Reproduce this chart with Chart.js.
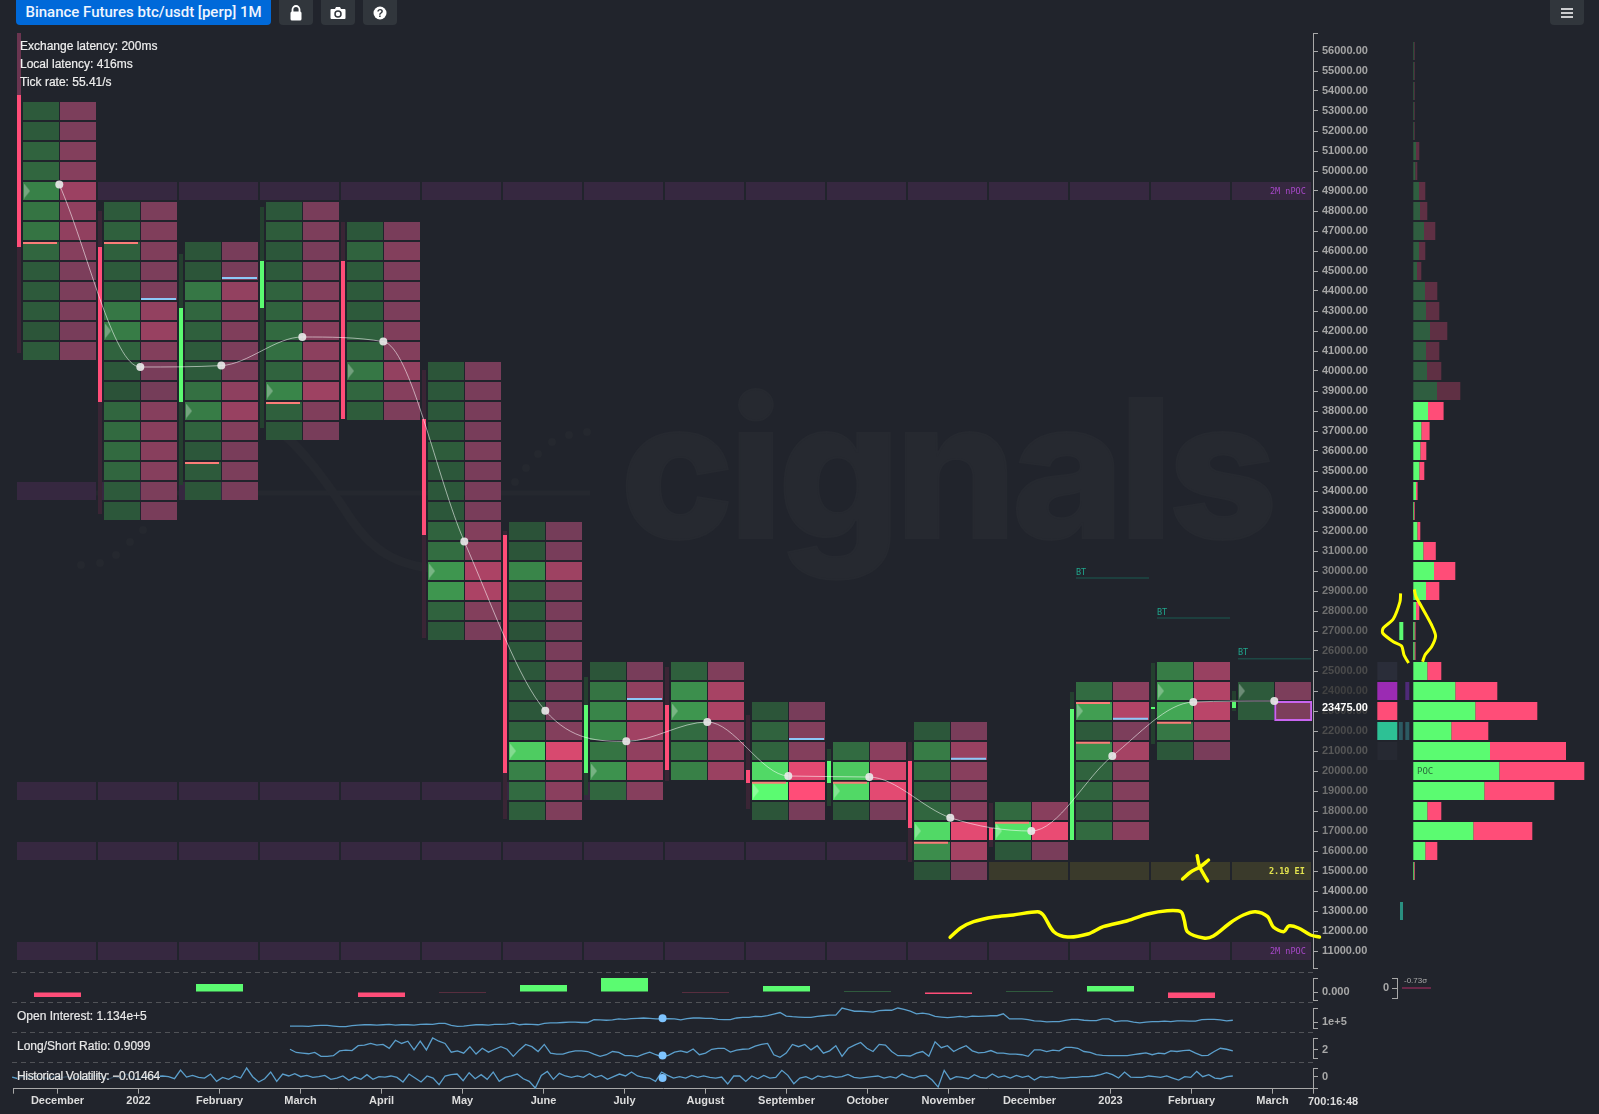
<!DOCTYPE html>
<html><head><meta charset="utf-8">
<style>
html,body{margin:0;padding:0;width:1599px;height:1114px;overflow:hidden;background:#21242c;font-family:"Liberation Sans",Arial,sans-serif}
canvas{position:absolute;display:block}
.t{position:absolute;white-space:nowrap;line-height:1;transform:translateY(-50%)}
.ind{font-size:12px;color:#e8e8e8;left:17px;-webkit-text-stroke:.2px #e8e8e8}
.mono{font-family:"DejaVu Sans Mono",monospace;font-size:8.5px}
.btn{position:absolute;top:0;height:25px;width:34px;background:#31363c;border-radius:0 0 4px 4px;display:flex;align-items:center;justify-content:center}
.dash{position:absolute;left:12px;width:1301px;height:1px;background:repeating-linear-gradient(90deg,#505257 0 5px,transparent 5px 9px)}
#mark{position:absolute;left:620px;top:372px;font-family:Inter,sans-serif;font-weight:800;font-size:192px;line-height:1;color:#262930;letter-spacing:-5.5px;white-space:nowrap;-webkit-text-stroke:2px #262930}
</style></head><body>
<svg style="position:absolute;left:0;top:0" width="1599" height="1114" fill="none" stroke="#25282f">
 <path d="M78 493H590" stroke-width="5"/>
 <path d="M272 425C300 445 325 480 345 510C370 550 395 568 450 570" stroke-width="9"/>
 <g fill="#25282f" stroke="none"><circle cx="81" cy="565" r="4"/><circle cx="100" cy="563" r="4"/><circle cx="116" cy="555" r="4"/><circle cx="130" cy="542" r="4"/><circle cx="143" cy="530" r="4"/>
 <circle cx="587" cy="432" r="4"/><circle cx="569" cy="435" r="4"/><circle cx="552" cy="442" r="4"/><circle cx="538" cy="454" r="4"/><circle cx="526" cy="468" r="4"/><circle cx="515" cy="482" r="4"/></g>
</svg>
<div id="mark">cignals</div>

<canvas id="main" style="left:0;top:0"></canvas>
<canvas id="profile" style="left:1376px;top:0"></canvas>
<canvas id="delta" style="left:0;top:972px"></canvas>
<canvas id="oi" style="left:0;top:1002px"></canvas>
<canvas id="ls" style="left:0;top:1032px"></canvas>
<canvas id="hv" style="left:0;top:1062px"></canvas>
<canvas id="sigma" style="left:1360px;top:972px"></canvas>

<div class="dash" style="top:972px"></div><div class="dash" style="top:1002px"></div>
<div class="dash" style="top:1032px"></div><div class="dash" style="top:1062px"></div>

<div style="position:absolute;left:16px;top:0;width:255px;height:25px;background:#0069d9;border-radius:0 0 4px 4px;color:#eef5ff;font:500 15px Roboto,sans-serif;line-height:24px;text-align:center">Binance Futures btc/usdt [perp] 1M</div>
<div class="btn" style="left:279px"><svg width="14" height="16" viewBox="0 0 14 16"><path d="M3.5 7V4.5a3.5 3.5 0 0 1 7 0V7" fill="none" stroke="#fff" stroke-width="1.8"/><rect x="1.5" y="6.5" width="11" height="9" rx="1.5" fill="#fff"/></svg></div>
<div class="btn" style="left:321px"><svg width="16" height="14" viewBox="0 0 16 14"><path d="M1.5 3H5L6 1H10L11 3H14.5A1 1 0 0 1 15.500 4V12A1 1 0 0 1 14.500 13H1.500A1 1 0 0 1 .5 12V4A1 1 0 0 1 1.500 3Z" fill="#fff"/><circle cx="8" cy="8" r="3" fill="none" stroke="#31363c" stroke-width="1.500"/></svg></div>
<div class="btn" style="left:363px"><svg width="14" height="14" viewBox="0 0 14 14"><circle cx="7" cy="7" r="6.500" fill="#fff"/><text x="7" y="10.800" text-anchor="middle" font-size="11" font-weight="700" font-family="Liberation Sans" fill="#31363c">?</text></svg></div>
<div class="btn" style="left:1550px"><svg width="14" height="12" viewBox="0 0 14 12"><path d="M1 2H13M1 6H13M1 10H13" stroke="#fff" stroke-width="1.500"/></svg></div>

<div class="t" style="left:20px;top:46px;font-size:12px;color:#eee;-webkit-text-stroke:.2px #eee">Exchange latency: 200ms</div>
<div class="t" style="left:20px;top:64px;font-size:12px;color:#eee;-webkit-text-stroke:.2px #eee">Local latency: 416ms</div>
<div class="t" style="left:20px;top:82px;font-size:12px;color:#eee;-webkit-text-stroke:.2px #eee">Tick rate: 55.41/s</div>

<div class="t mono" style="left:1270px;top:191px;color:#a748c8">2M nPOC</div>
<div class="t mono" style="left:1270px;top:951px;color:#a748c8">2M nPOC</div>
<div class="t mono" style="left:1269px;top:871px;color:#e3e34e;font-weight:700">2.19 EI</div>
<div class="t mono" style="left:1076px;top:572px;color:#20a58c">BT</div>
<div class="t mono" style="left:1157px;top:612px;color:#20a58c">BT</div>
<div class="t mono" style="left:1238px;top:652px;color:#20a58c">BT</div>
<div class="t mono" style="left:1417px;top:771px;color:#2a6e3c;font-size:9px">POC</div>
<div class="t" style="left:1322px;top:707px;font-size:11px;font-weight:700;color:#fff">23475.00</div>
<div class="t" style="left:1404px;top:981px;font-size:8px;color:#aaa">-0.73σ</div>
<div class="t" style="left:1308px;top:1101px;font-size:11px;font-weight:700;color:#ddd">700:16:48</div>

<div class="t ind" style="top:1016px">Open Interest: 1.134e+5</div>
<div class="t ind" style="top:1046px">Long/Short Ratio: 0.9099</div>
<div class="t ind" style="top:1076px;letter-spacing:-.35px;background:rgba(33,36,44,.7)">Historical Volatility: −0.01464</div>

<script src="https://cdn.jsdelivr.net/npm/chart.js@4/dist/chart.umd.min.js"></script>
<script>
// ---------- values ----------
const months=['December','2022','February','March','April','May','June','July','August','September','October','November','December','2023','February','March'];
const priceTicks=[56000,55000,54000,53000,52000,51000,50000,49000,48000,47000,46000,45000,44000,43000,42000,41000,40000,39000,38000,37000,36000,35000,34000,33000,32000,31000,30000,29000,28000,27000,26000,25000,24000,23000,22000,21000,20000,19000,18000,17000,16000,15000,14000,13000,12000,11000];
const cellTop=[53000,48000,46000,48000,47000,40000,32000,25000,25000,23000,21000,22000,18000,24000,25000,24000];
const cellShade=[
[.05,.05,.1,.12,.28,.2,.2,.12,.05,.05,.05,.02,.05],
[.05,.08,.08,.05,.05,.22,.25,.1,.03,0,.12,.14,.14,.12,.05,.03],
[.02,.02,.22,.12,.08,.05,.05,.18,.25,.1,.03,.05,.02],
[.03,.06,.03,.05,.1,.1,.14,.17,.1,.3,.08,.02],
[.03,.1,.05,.05,.05,.08,.1,.22,.12,.06],
[.02,.03,.03,.02,.06,.03,.03,.03,.1,.16,.4,.4,.1,.03],
[0,.02,.3,.06,.03,0,.03,.03,.03,.03,.1,.72,.28,.15,.07],
[.02,.2,.3,.32,.2,.38,.12],
[.08,.36,.4,.15,.2,.27],
[.02,.1,.1,.8,1,.02],
[.15,.7,.8,.02],
[.03,.25,.14,.05,.12,.8,.35,0],
[.14,.85,.03],
[.15,.45,.05,.35,.1,.1,.07,.14],
[.25,.45,.5,.22,.03],
[.05,.05]];
const pocPrice=[49000,42000,38000,39000,40000,30000,21000,20000,23000,19000,19000,17000,17000,23000,24000,24000];
const wickHigh=[56900,48000,45850,48200,47450,40050,32000,24700,25200,22800,21100,21450,18400,23950,25400,24000];
const bodyHigh=[53800,46200,43150,45500,45500,37600,31800,23300,23300,20050,20500,20500,17150,23100,23200,23450];
const bodyLow =[46200,38450,38450,43150,37600,31800,19900,19900,20050,19400,19400,17150,16550,16550,23100,23150];
const wickLow =[40900,32850,34300,37150,37600,26650,17600,18800,19500,18100,18250,15450,16200,16550,21350,23000];
const candleUp=[0,0,1,1,0,0,0,1,0,0,1,0,0,1,1,1];
const vwap=[49320,40200,40270,41700,41470,31475,23015,21485,22450,19750,19700,17665,17000,20750,23450,23500];
const salmonCol=[0,1,2,3,9,10,11,12,13,13,14];
const salmonPrice=[46400,46400,35400,38400,19415,19415,16415,17415,23400,21415,22415];
const blueCol=[1,2,7,9,11,13];
const bluePrice=[43600,44650,23600,21600,20615,22615];
const npocBands=[[49000,1,15],[34000,0,2],[19000,0,7],[16000,0,10],[11000,0,15]];
const eiBand=[15000,12,15];
const btCol=[13,14,15];
const btPrice=[29650,27650,25615];
const scribbleCol=[11.02,11.15,11.31,11.56,11.80,12.10,12.17,12.30,12.47,12.72,12.91,13.21,13.46,13.70,13.87,13.91,13.95,14.15,14.27,14.48,14.64,14.79,14.94,15.01,15.14,15.20,15.32,15.47,15.58];
const scribblePrice=[11685,12150,12465,12700,12800,12965,12800,11965,11700,11850,12215,12515,12850,13015,12965,12550,11965,11650,11750,12415,12800,12965,12715,12200,11965,12250,12150,11800,11700];
const crossACol=[13.89,13.99,14.11,14.21], crossAPrice=[14600,14950,15215,15550];
const crossBCol=[14.07,14.10,14.20], crossBPrice=[15765,15215,14500];

const profilePrice=[56000,55000,54000,53000,52000,51000,50000,49000,48000,47000,46000,45000,44000,43000,42000,41000,40000,39000,38000,37000,36000,35000,34000,33000,32000,31000,30000,29000,28000,27000,26000,25000,24000,23000,22000,21000,20000,19000,18000,17000,16000,15000];
const buyVol=[.75,.75,.75,.75,.75,2.7,2,5.7,6.7,10.7,5.7,3.7,11.7,12.7,16.7,12.7,13.7,23.7,14.7,8,7,6,2.7,.7,4,10,20.7,12.7,2.7,1.2,1.2,14,42,62,38,76.7,86,71,14,60,12,.8];
const sellVol=[.75,.75,.75,.75,.75,3.3,2,6.3,7.3,11.3,6.3,4.3,12.3,13.3,17.3,13.3,14.3,23.3,15.6,8.3,6,5,1.6,.7,3,12.5,21.3,13.3,3.3,1,1,14,42,62,37,76,85,70,14,59,12,.7];
const sideBoxes=[[25000,-36,-16,'#2a2d39'],[24000,-36,-16,'#9b2bb3'],[23000,-36,-16,'#ff4d78'],[22000,-36,-16,'#2dc195'],[21000,-36,-16,'#262932'],
 [27000,-14,-10,'#5bfb71'],[24000,-8,-4,'#4e2a78'],[22000,-14.500,-10.500,'#2c5a62'],[22000,-8,-4,'#2c5a62'],[13000,-13.300,-10.300,'#2a8f80']];
const loopLeftX=[-12.7,-13.3,-20,-30,-30.7,-20,-11.7,-9.3,-4.7], loopLeftP=[28883,28465,27600,27150,26900,26465,26250,25800,25400];
const loopRightX=[1,2.7,8.3,18.3,22.3,18.3,11.7,9.3], loopRightP=[29085,28715,28215,27300,26750,26215,25800,25465];

const deltaCol=[0,2,4,5,6,7,8,9,10,11,12,13,14];
const deltaVal=[-5,8,-5,-.7,7,14,-.7,6,.7,-2,.7,6,-6];
const openInterest=[86.6,86.6,86.6,85.5,87.8,88.9,88.9,86.6,84.4,84.4,87.8,90,91.1,91.1,90,91.1,92.2,90,91.1,91.1,90,92.2,93.3,92.2,95.6,95.6,88.9,85.5,86.6,88.9,91.1,91.1,90,92.2,92.2,93.3,96.7,91.1,93.3,92.2,91.1,95.6,97.8,97.8,98.9,100,100,98.9,98.9,109,107.9,106.7,107.9,111.2,
110.1,112.3,113.4,114.6,113.4,111.2,111.2,112.3,111.2,107.9,112.3,114.6,114.6,113.4,113.4,110.1,109,109,114.6,116.8,116.8,120.2,119,122.4,128,133.5,121.3,119,117.9,116.8,116.8,120.2,122.4,124.6,124.6,149.2,143.6,138,138,136.9,134.7,140.3,141.4,141.4,149.2,144.7,138,129.1,131.3,128,120.2,117.9,115.7,117.9,120.2,117.9,121.3,120.2,121.3,122.4,122.4,129.1,111.2,111.2,111.2,109,104.5,103.4,101.2,102.3,102.3,106.7,110.1,110.1,106.7,105.6,105.6,111.2,111.2,102.3,104.5,104.5,100,97.8,100,102.3,102.3,103.4,102.3,104.5,104.5,103.4,103.4,109,110.1,110.1,107.9,104.5,106.7];
const longShort=[2.06,1.46,1.34,1.22,1.46,.74,.74,.86,1.76,1.88,1.82,2.72,2.84,3.14,2.84,2.96,2.24,3.74,3.14,3.56,1.94,3.56,1.94,4.16,3.56,3.14,1.52,1.76,1.34,2.54,1.16,2.24,1.52,2.06,2.54,2.06,.74,1.94,2.96,2.54,1.64,2.96,1.34,1.16,1.16,1.52,1.76,1.76,1.64,1.16,.74,1.04,1.64,1.46,
.86,.86,.68,1.16,1.52,1.04,.62,.92,1.52,1.76,1.46,2.12,1.04,1.34,2.06,2.24,2.24,1.52,1.88,2.06,2.12,2.66,2.96,3.14,1.04,.56,1.34,2.96,2.54,2.96,1.94,2.72,1.34,1.76,2.72,.74,2.24,2.84,3.32,2.24,1.64,2.96,2.84,1.64,.86,.86,.8,1.34,1.64,.74,3.44,2.36,2.72,1.64,2.24,2.72,1.76,1.4,1.46,1.82,1.34,1.34,1.16,1.16,1.04,.74,1.94,1.94,1.64,1.88,1.76,2.42,2.42,2.24,1.64,1.46,1.04,.92,.86,.86,.86,.86,1.04,1.22,1.4,1.04,1.34,1.22,1.76,1.64,1.82,1.88,1.34,.86,.92,1.64,2.24,2.06,1.76];
const histVol=[-4,-23,8,-15,8,-8,-23,8,-15,0,-23,8,-30,0,15,-8,-30,0,-15,30,-4,-30,8,-4,4,8,0,-23,75,-4,15,-8,-15,30,-53,-8,-30,8,-15,98,0,-60,-23,53,-53,30,8,34,0,15,-8,0,15,-30,-15,8,-41,-4,-30,23,-30,0,-4,8,-8,-60,30,-15,-60,8,-15,-90,8,23,30,-45,45,-23,23,-30,53,-53,-8,8,30,-23,-53,-128,15,60,-30,38,8,-8,8,-8,34,-8,15,-30,0,30,
8,53,8,-8,-15,-53,53,15,-15,0,-15,15,-8,8,-8,-15,-4,-83,8,8,-53,8,-23,15,-15,-8,72,15,-79,-15,0,-30,8,-8,8,-8,0,26,-8,-15,-8,0,8,-15,0,-15,30,0,-15,8,15,-38,-117,72,-30,0,-8,-23,23,-8,-15,30,-8,8,-15,15,-8,8,-38,0,-8,0,-15,-15,-8,-8,0,0,8,23,45,23,-15,53,-4,-8,-8,8,0,-8,8,-15,-38,0,-8,60,0,23,-15,-23,0,8];
const hoverCol=7.47, hoverOI=113.4, hoverLS=.9099, hoverHV=-14.64;
const sigmaSpan=[5,34], sigmaLevel=0;
const lastPrice=23475;

// ---------- rendering ----------
Chart.defaults.animation=false;
Chart.defaults.responsive=false;
Chart.defaults.devicePixelRatio=1;
Chart.defaults.font.family='"Liberation Sans",Arial,sans-serif';
Chart.defaults.plugins.legend.display=false;
Chart.defaults.plugins.tooltip.enabled=false;
Chart.defaults.events=[];

function size(id,w,h){const c=document.getElementById(id);c.width=w;c.height=h;c.style.width=w+'px';c.style.height=h+'px';return c;}
const COL=81, XMIN=-0.5494, XMAX=15.5, PMIN=10150, PMAX=56900, AXIS='#a8a8a8';
const off=px=>px/COL;
const mix=(a,b,t)=>`rgb(${a.map((v,i)=>Math.round(v+(b[i]-v)*t)).join(',')})`;
const gLo=[43,82,56],gHi=[91,251,113],rLo=[117,61,89],rHi=[255,77,120];
const range=n=>[...Array(n).keys()];
const fitY=w=>s=>{s.width=w;s.paddingTop=0;s.paddingBottom=0;};
const fitX=h=>s=>{s.height=h;s.paddingLeft=0;s.paddingRight=0;};

function barSet(points,w,color,order,extra){
  return Object.assign({type:'bar',stack:'m',barThickness:w,data:points,backgroundColor:color,borderWidth:0,inflateAmount:0,order},extra||{});
}
const cells=[];cellShade.forEach((rows,c)=>rows.forEach((t,r)=>cells.push({c,p:cellTop[c]-r*1000,t})));
const bandPts=[];npocBands.forEach(([p,a,b])=>{for(let c=a;c<=b;c++)bandPts.push({x:c-off(1),y:[p-450,p+450]});});
const eiPts=[];for(let c=eiBand[1];c<=eiBand[2];c++)eiPts.push({x:c-off(1),y:[eiBand[0]-450,eiBand[0]+450]});
const tri=document.createElement('canvas');tri.width=6;tri.height=15;
{const g=tri.getContext('2d');g.fillStyle='rgba(255,255,255,.3)';g.beginPath();g.moveTo(0,0);g.lineTo(6,7.5);g.lineTo(0,15);g.closePath();g.fill();}
const stroke=(xs,ys,order)=>({type:'line',data:xs.map((x,i)=>({x,y:ys[i]})),borderColor:'#ffff00',borderWidth:3.5,pointRadius:0,tension:.3,clip:false,order,borderCapStyle:'round',borderJoinStyle:'round'});

const redUp=u=>u?'#24402f':'#3a2535';
new Chart(size('main',1376,1000),{type:'bar',data:{datasets:[
  stroke(scribbleCol,scribblePrice,0),stroke(crossACol,crossAPrice,0),stroke(crossBCol,crossBPrice,0),
  {type:'line',data:vwap.map((y,i)=>({x:i+off(1.8),y})),cubicInterpolationMode:'monotone',borderColor:'rgba(255,255,255,.55)',borderWidth:1,pointRadius:4,pointBorderWidth:0,pointBackgroundColor:'rgba(232,232,232,.92)',clip:false,order:1},
  {type:'line',showLine:false,data:pocPrice.map((y,i)=>({x:i+off(-30.5),y})),pointStyle:tri,pointRadius:7,order:2},
  barSet(salmonCol.map((c,i)=>({x:c+off(-17.5),y:[salmonPrice[i]-50,salmonPrice[i]+50]})),34,'#fb7d78',3),
  barSet(blueCol.map((c,i)=>({x:c+off(20),y:[bluePrice[i]-50,bluePrice[i]+50]})),35,'#8cc8f8',3),
  barSet([{x:15+off(20.7),y:[22500,23500]}],38,'rgba(0,0,0,0)',3,{borderWidth:2,borderColor:'#c865f0',borderSkipped:false}),
  barSet(cells.map(o=>({x:o.c+off(-16.5),y:[o.p-450,o.p+450]})),36,cells.map(o=>mix(gLo,gHi,o.t)),5),
  barSet(cells.map(o=>({x:o.c+off(20.5),y:[o.p-450,o.p+450]})),36,cells.map(o=>mix(rLo,rHi,o.t)),5),
  barSet(bodyHigh.map((h,i)=>({x:i+off(-38.5),y:[bodyLow[i],h]})),4,candleUp.map(u=>u?'#5bfb71':'#ff4d78'),6),
  barSet([{x:off(-38.5),y:[bodyHigh[0],wickHigh[0]]}],4,'#6a3550',6),
  barSet(wickHigh.map((h,i)=>({x:i+off(-38.5),y:[wickLow[i],h]})),4,candleUp.map(redUp),7),
  barSet(btCol.map((c,i)=>({x:c+off(2),y:[btPrice[i]-40,btPrice[i]+40]})),73,'#1d4844',8),
  barSet(bandPts,79,'#362840',9),
  barSet(eiPts,79,'#3a3a2b',9)
]},options:{layout:{padding:{left:13,top:33,bottom:32,right:0}},scales:{
  x:{type:'linear',display:false,min:XMIN,max:XMAX,offset:false,grid:{display:false}},
  y:{type:'linear',position:'right',min:PMIN,max:PMAX,stacked:false,
     afterFit:fitY(63),
     afterBuildTicks:s=>{s.ticks=[PMAX,...priceTicks,PMIN].map(value=>({value}))},
     grid:{drawOnChartArea:false,color:AXIS,tickLength:5},border:{color:AXIS},
     ticks:{autoSkip:false,padding:4,font:{size:11,weight:'bold'},
       callback:v=>priceTicks.includes(v)?v.toFixed(2):'',
       color:c=>{const d=Math.abs(c.tick.value-lastPrice);const a=Math.min(1,.2+d/12000);const g=Math.round(33+(165-33)*a);return `rgb(${g},${g},${g})`}}}
}}});

new Chart(size('profile',223,1000),{type:'bar',data:{datasets:[
  {type:'line',data:loopLeftX.map((x,i)=>({x,y:loopLeftP[i]})),borderColor:'#ffff00',borderWidth:3,pointRadius:0,tension:.25,clip:false,order:0},
  {type:'line',data:loopRightX.map((x,i)=>({x,y:loopRightP[i]})),borderColor:'#ffff00',borderWidth:3,pointRadius:0,tension:.25,clip:false,order:0},
  {type:'bar',stack:'p',barThickness:18,inflateAmount:0,order:2,data:profilePrice.map((y,i)=>({y,x:[0,buyVol[i]]})),backgroundColor:profilePrice.map(p=>p>=39000?'#2f5e40':'#5bfb71')},
  {type:'bar',stack:'p',barThickness:18,inflateAmount:0,order:2,data:profilePrice.map((y,i)=>({y,x:[buyVol[i],buyVol[i]+sellVol[i]]})),backgroundColor:profilePrice.map(p=>p>=39000?'#5f3044':'#ff4d78')},
  {type:'bar',stack:'p',barThickness:18,inflateAmount:0,order:2,data:sideBoxes.map(b=>({y:b[0],x:[b[1],b[2]]})),backgroundColor:sideBoxes.map(b=>b[3])}
]},options:{indexAxis:'y',layout:{padding:{left:0,top:33,bottom:32,right:0}},scales:{
  x:{type:'linear',display:false,min:-37.3,max:185.7,stacked:false},
  y:{type:'linear',display:false,min:PMIN,max:PMAX,offset:false,grid:{display:false}}
}}});

function panel(id,h,pad,ymin,ymax,tick,label,datasets,bottomAxis){
  return new Chart(size(id,1376,h),{type:'bar',data:{datasets},options:{layout:{padding:{left:13,top:pad[0],bottom:pad[1],right:0}},scales:{
    x:bottomAxis?{type:'linear',display:true,min:XMIN,max:XMAX,offset:false,
       afterFit:fitX(25.3),
       afterBuildTicks:s=>{s.ticks=[XMIN,...range(months.length),XMAX].map(value=>({value}))},
       grid:{drawOnChartArea:false,color:AXIS,tickLength:5,offset:false},border:{color:AXIS},
       ticks:{autoSkip:false,maxRotation:0,padding:1,color:'#ddd',font:{size:11,weight:'bold'},
         callback:v=>Number.isInteger(v)?months[v]:''}}
      :{type:'linear',display:false,min:XMIN,max:XMAX,offset:false,grid:{display:false}},
    y:{type:'linear',position:'right',min:ymin,max:ymax,stacked:false,
       afterFit:fitY(63),
       afterBuildTicks:s=>{s.ticks=[ymax,tick,ymin].map(value=>({value}))},
       grid:{drawOnChartArea:false,color:AXIS,tickLength:5},border:{color:AXIS},
       ticks:{autoSkip:false,padding:4,color:'#a8a8a8',font:{size:11,weight:'bold'},callback:v=>v===tick?label:''}}
  }}});
}
const LINE='#5b9fcc';
function series(vals,c0,c1,hv){
  const n=vals.length;
  return [
   {type:'line',data:[{x:hoverCol,y:hv}],showLine:false,pointRadius:4,pointBorderWidth:0,pointBackgroundColor:'#7ec4ff',clip:false,order:0},
   {type:'line',data:vals.map((y,i)=>({x:c0+(c1-c0)*i/(n-1),y})),borderColor:LINE,borderWidth:1.300,pointRadius:0,tension:0,clip:false,order:1}
  ];
}
panel('delta',30,[6,2],-8,14,0,'0.000',[{type:'bar',stack:'d',barThickness:47,inflateAmount:0,
   data:deltaCol.map((c,i)=>({x:c,y:deltaVal[i]})),backgroundColor:deltaVal.map(v=>v>0?'#5bfb71':'#ff4d78')}]);
panel('oi',30,[6,3.3],79.9,149.2,100,'1e+5',series(openInterest,2.87,14.51,hoverOI));
panel('ls',30,[6,3.3],.43,4.16,2,'2',series(longShort,2.87,14.51,hoverLS));
panel('hv',52,[6,0],-135.6,98.3,0,'0',series(histVol,-.56,14.51,hoverHV),true);

new Chart(size('sigma',90,30),{type:'line',data:{datasets:[
  {data:sigmaSpan.map(x=>({x,y:sigmaLevel})),borderColor:'#b52d66',borderWidth:1,pointRadius:0}
]},options:{layout:{padding:{top:6,bottom:4,left:0,right:0}},scales:{
  x:{type:'linear',display:false,min:0,max:53},
  y:{type:'linear',position:'left',min:-1,max:1,
     afterFit:fitY(37),
     afterBuildTicks:s=>{s.ticks=[1,0,-1].map(value=>({value}))},
     grid:{drawOnChartArea:false,color:AXIS,tickLength:5},border:{color:AXIS},
     ticks:{autoSkip:false,padding:3,color:'#a8a8a8',font:{size:11,weight:'bold'},callback:v=>v===0?'0':''}}
}}});
</script>
</body></html>
